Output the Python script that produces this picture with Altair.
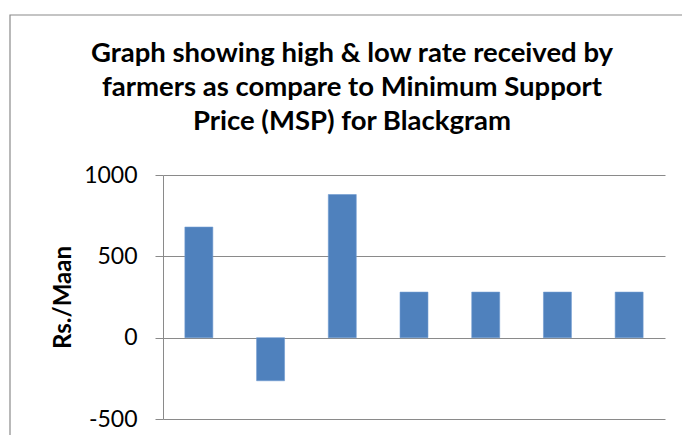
import altair as alt
import pandas as pd

categories = ["1", "2", "3", "4", "5", "6", "7"]
values = [680, -265, 880, 280, 280, 280, 280]
y_ticks = [-500, 0, 500, 1000]
title_lines = ["Graph showing high & low rate received by",
               "farmers as compare to Minimum Support",
               "Price (MSP) for Blackgram"]

df = pd.DataFrame({"cat": categories, "val": values})

FONT = "Lato"
GRID = "#8a8a8a"

bars = alt.Chart(df).mark_bar(color="#4F81BD", stroke="#6f9bd0", strokeWidth=0.6).encode(
    x=alt.X("cat:N", sort=categories, axis=None,
            scale=alt.Scale(paddingInner=0.61, paddingOuter=0.305)),
    y=alt.Y("val:Q",
            scale=alt.Scale(domain=[-500, 1000], nice=False, zero=False),
            axis=alt.Axis(values=y_ticks, title="Rs./Maan", grid=True, gridColor=GRID,
                          gridWidth=1, domainColor=GRID, domainWidth=1,
                          tickColor=GRID, tickSize=8, tickWidth=1,
                          labelExpr="'' + datum.value",
                          labelFont=FONT, labelFontSize=23, labelColor="#000",
                          labelPadding=18,
                          titleFont=FONT, titleFontSize=24, titleFontWeight="bold",
                          titleColor="#000", titleAngle=-90, titleX=-93, titleY=122,
                          titleBaseline="alphabetic", titleAlign="center")),
)

one = pd.DataFrame({"k": [0]})

frame = alt.Chart(one).mark_rect(fill=None, stroke="#8a8a8a", strokeWidth=1.2).encode(
    x=alt.value(-153), x2=alt.value(540), y=alt.value(-160), y2=alt.value(300)
)

title = alt.Chart(one).mark_text(
    text=title_lines, font=FONT, fontSize=27.5, fontWeight="bold", color="#000",
    lineHeight=34, align="center", baseline="alphabetic"
).encode(x=alt.value(189), y=alt.value(-113))

chart = alt.layer(frame, bars, title).properties(
    width=502, height=244,
    autosize="none",
    padding={"left": 155, "top": 167, "right": 17, "bottom": 16},
).configure_view(stroke=None)

chart.save("out.html", embed_options={"renderer": "svg", "actions": False})
